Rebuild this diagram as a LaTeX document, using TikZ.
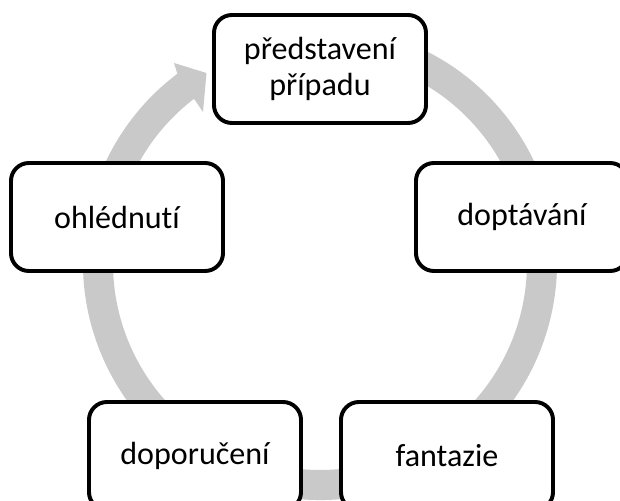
\documentclass[tikz,border=0pt]{standalone}
\usepackage{fontspec}
\setmainfont{Carlito}[Ligatures=NoCommon]
\usetikzlibrary{calc}
\definecolor{ringgray}{RGB}{201,201,201}
\tikzset{
  stage/.style={draw=black, line width=2.8pt, fill=white, rounded corners=0.45cm,
    minimum width=5.3cm, minimum height=2.7cm, align=center,
    font=\fontsize{22.8}{25}\selectfont}
}
\begin{document}
\begin{tikzpicture}[x=0.025cm, y=-0.025cm]
      \useasboundingbox (0,0) rectangle (620,501);
      \coordinate (O) at (320,263);
      % ring with arrow head
      \fill[ringgray] ($(O)+(-75:237)$) arc[start angle=-75, end angle=233, radius=237]
        -- (174,63) -- (206.5,73) -- (203,112)
        -- ($(O)+(232.5:207)$) arc[start angle=232.5, end angle=-75, radius=207] -- cycle;
      \node[stage] (predstaveni) at (320,69) {představení\\případu};
      \node[stage] (doptavani) at (522,217) {doptávání};
      \node[stage] (fantazie) at (447,456) {fantazie};
      \node[stage] (doporuceni) at (195,456) {doporučení};
      \node[stage] (ohlednuti) at (117,217) {ohlédnutí};
    \end{tikzpicture}
\end{document}
